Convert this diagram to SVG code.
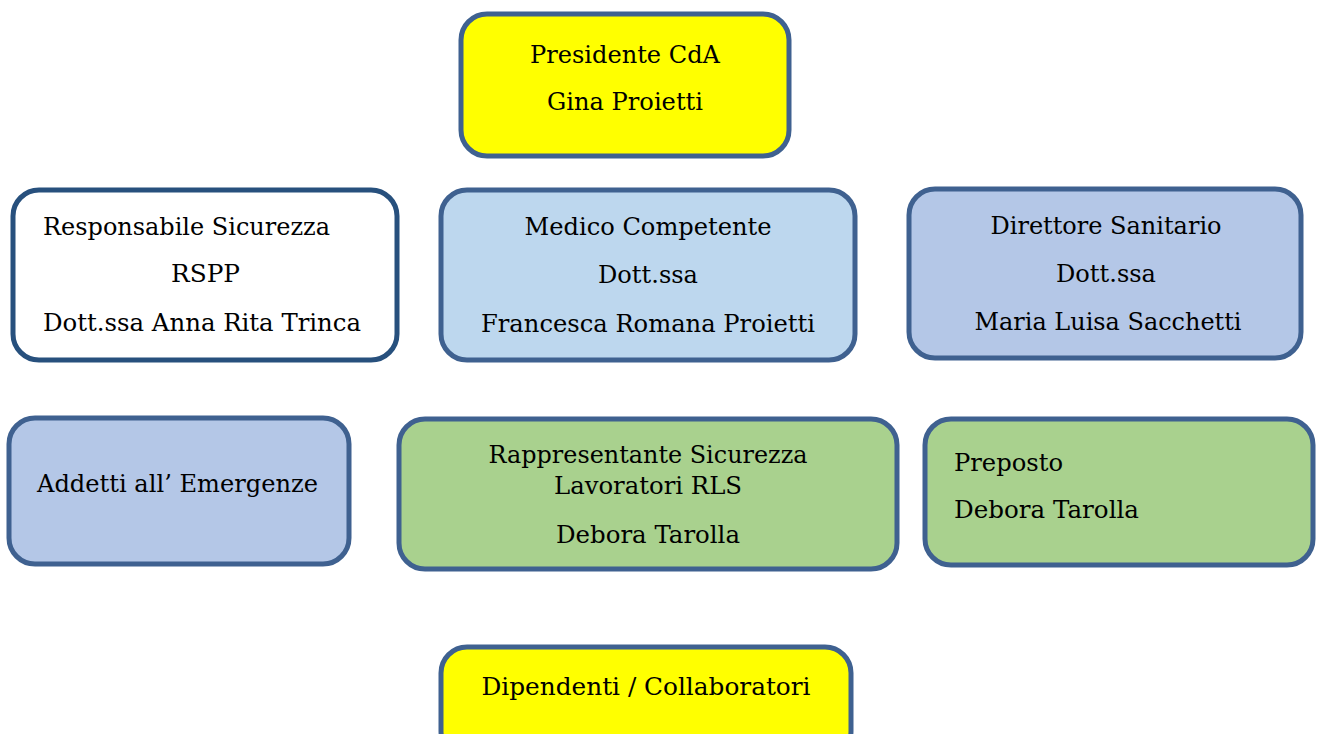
<svg xmlns="http://www.w3.org/2000/svg" width="1318" height="734" viewBox="0 0 1318 734">
<style>
.box{stroke:#3f6190;stroke-width:5}
.t{font-family:"DejaVu Serif","Liberation Serif",serif;font-size:25px;fill:#000}
.c{text-anchor:middle}
</style>
<rect width="1318" height="734" fill="#fff"/>
<g id="connectors"/>
<g id="presidente">
<rect class="box" x="461" y="14" width="328" height="142" rx="26" fill="#ffff00"/>
<text class="t c" x="625" y="63" textLength="190" lengthAdjust="spacingAndGlyphs">Presidente CdA</text>
<text class="t c" x="625" y="110" textLength="156" lengthAdjust="spacingAndGlyphs">Gina Proietti</text>
</g>
<g id="rspp">
<rect class="box" x="13" y="190" width="384" height="170" rx="26" fill="#ffffff" style="stroke:#27507d"/>
<text class="t" x="43" y="235" textLength="287" lengthAdjust="spacingAndGlyphs">Responsabile Sicurezza</text>
<text class="t" x="171" y="282" textLength="69" lengthAdjust="spacingAndGlyphs">RSPP</text>
<text class="t" x="43" y="331" textLength="318" lengthAdjust="spacingAndGlyphs">Dott.ssa Anna Rita Trinca</text>
</g>
<g id="medico">
<rect class="box" x="441" y="190" width="414" height="170" rx="26" fill="#bdd7ee"/>
<text class="t c" x="648" y="235" textLength="247" lengthAdjust="spacingAndGlyphs">Medico Competente</text>
<text class="t c" x="648" y="283" textLength="100" lengthAdjust="spacingAndGlyphs">Dott.ssa</text>
<text class="t c" x="648" y="332" textLength="334" lengthAdjust="spacingAndGlyphs">Francesca Romana Proietti</text>
</g>
<g id="direttore">
<rect class="box" x="909" y="189" width="392" height="169" rx="26" fill="#b4c7e7"/>
<text class="t c" x="1106" y="234" textLength="231" lengthAdjust="spacingAndGlyphs">Direttore Sanitario</text>
<text class="t c" x="1106" y="282" textLength="100" lengthAdjust="spacingAndGlyphs">Dott.ssa</text>
<text class="t c" x="1108" y="330" textLength="267" lengthAdjust="spacingAndGlyphs">Maria Luisa Sacchetti</text>
</g>
<g id="addetti">
<rect class="box" x="9" y="418" width="340" height="146" rx="26" fill="#b4c7e7"/>
<text class="t" x="37" y="492" textLength="281" lengthAdjust="spacingAndGlyphs">Addetti all’ Emergenze</text>
</g>
<g id="rls">
<rect class="box" x="399" y="419" width="498" height="150" rx="26" fill="#a9d18e"/>
<text class="t c" x="648" y="463" textLength="319" lengthAdjust="spacingAndGlyphs">Rappresentante Sicurezza</text>
<text class="t c" x="648" y="494" textLength="188" lengthAdjust="spacingAndGlyphs">Lavoratori RLS</text>
<text class="t c" x="648" y="543" textLength="184" lengthAdjust="spacingAndGlyphs">Debora Tarolla</text>
</g>
<g id="preposto">
<rect class="box" x="925" y="419" width="388" height="146" rx="26" fill="#a9d18e"/>
<text class="t" x="954" y="471" textLength="109" lengthAdjust="spacingAndGlyphs">Preposto</text>
<text class="t" x="954" y="518" textLength="185" lengthAdjust="spacingAndGlyphs">Debora Tarolla</text>
</g>
<g id="dipendenti">
<rect class="box" x="441" y="647" width="410" height="110" rx="26" fill="#ffff00"/>
<text class="t c" x="646" y="695" textLength="329" lengthAdjust="spacingAndGlyphs">Dipendenti / Collaboratori</text>
</g>
</svg>
